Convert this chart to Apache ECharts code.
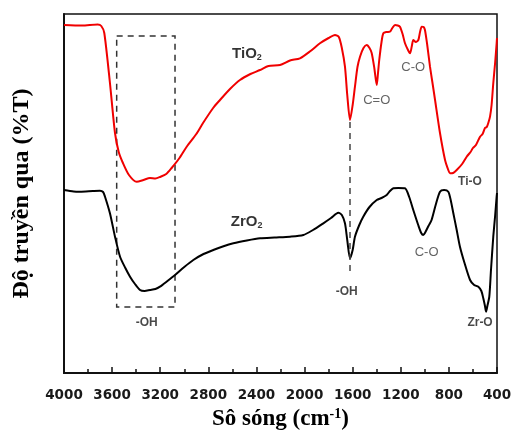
<!DOCTYPE html>
<html style="height: 100%">
<head>
    <meta charset="utf-8">
</head>
<body style="height: 100%; margin: 0; background: #fff">
<div id="container" style="width: 513px; height: 437px"></div>
<script src="https://cdn.jsdelivr.net/npm/echarts@6/dist/echarts.min.js"></script>
<script type="text/javascript">
    // wavenumber (cm-1) / transmittance (arb. units)
    const tio2Wn = [4000, 3850, 3720, 3690, 3665, 3618, 3576, 3545, 3510, 3460, 3396, 3340, 3285, 3240, 3202, 3150, 3105, 3040, 2980, 2900,
        2844, 2760, 2703, 2620, 2537, 2450, 2370, 2300, 2204, 2121, 2038, 1950, 1872, 1800, 1747, 1715, 1690, 1664, 1645, 1622,
        1600, 1581, 1560, 1539, 1510, 1483, 1460, 1442, 1420, 1400, 1390, 1379, 1360, 1345, 1320, 1290, 1270, 1248, 1225, 1207,
        1185, 1165, 1140, 1123, 1108, 1096, 1075, 1054, 1040, 1026, 1010, 999, 980, 957, 935, 915, 874, 832, 805, 791,
        765, 735, 690, 652, 620, 600, 575, 541, 520, 500, 485, 470, 458, 445, 431, 415, 403, 400];
    const tio2T = [348, 347.5, 348.5, 347, 340, 290, 240, 221, 210, 198, 191.3, 193, 195, 194.5, 196, 199, 205, 215, 226.3, 239,
        250, 265, 273, 284, 293, 299, 303, 307, 308, 312.5, 314.7, 322, 329.7, 335, 338, 336, 325, 306.3, 278, 253,
        268, 286.3, 306, 316.3, 325, 328, 325, 320, 305, 288, 299, 313, 331, 339.7, 341, 341.3, 345, 348, 347.5, 346.3,
        339, 329.7, 323, 319.7, 327, 333, 331, 333, 341, 346.3, 346, 343, 328, 306.3, 289, 273, 240, 213, 203, 199.7,
        200, 203, 209, 216.3, 221, 225, 228, 236.3, 239, 245, 246, 251, 256.3, 268, 289.7, 311, 329.7, 335];

    const zro2Wn = [4000, 3920, 3867, 3760, 3701, 3675, 3659, 3618, 3576, 3534, 3490, 3451, 3410, 3368, 3330, 3285, 3240, 3202, 3140, 3077,
        3000, 2925, 2840, 2759, 2680, 2592, 2480, 2370, 2250, 2121, 2010, 1930, 1844, 1780, 1719, 1690, 1664, 1645, 1622, 1600,
        1581, 1545, 1512, 1460, 1400, 1360, 1317, 1290, 1262, 1220, 1165, 1130, 1096, 1055, 1030, 1013, 995, 970, 944, 910,
        874, 840, 805, 785, 763, 735, 708, 670, 624, 590, 555, 530, 514, 500, 491, 480, 464, 450, 431, 415, 403, 400];
    const zro2T = [183, 181.5, 181.3, 182, 182.3, 181, 176.3, 159.7, 136.3, 116.3, 105, 96.3, 89, 83, 82, 83, 84, 86.3, 92, 98,
        106, 113, 119, 123, 126.5, 129.7, 132.5, 134.7, 135.5, 136.3, 138, 143, 149.7, 155, 160.3, 158, 149.7, 133, 114.7, 123,
        136.3, 148, 156.3, 166, 173, 175, 178, 182, 184.7, 185, 184.7, 176, 163, 148, 140, 138, 141, 147, 153, 168,
        181.3, 183, 181.3, 173, 159.7, 143, 126.3, 110, 93, 88, 86.3, 82, 74.7, 67, 61.3, 67, 76.3, 103, 136.3, 158, 176.3, 180];

    // annotations
    const ohBox = [[3562, 337], [3077, 66]];
    const ohLine = [[1622, 251], [1622, 100]];
    const labelText = ['TiO{s|2}', 'ZrO{s|2}', 'C=O', 'C-O', 'C-O', 'Ti-O', 'Zr-O', '-OH', '-OH'];
    const labelPos = [[2479, 319], [2481, 151], [1400, 273], [1096, 306], [985, 121], [625, 191], [541, 50], [3312, 50], [1650, 81]];
    const labelKind = ['big', 'big', 'thin', 'thin', 'thin', 'small', 'small', 'small', 'small'];

    const xTicks = [4000, 3600, 3200, 2800, 2400, 2000, 1600, 1200, 800, 400];

    function pairs(xs, ys) {
        return xs.map(function (x, i) { return [x, ys[i]]; });
    }

    const labelStyles = {
        big: {fontSize: 15, fontWeight: 'bold', color: '#000'},
        thin: {fontSize: 13, fontWeight: 'normal', color: '#3c3c3c'},
        small: {fontSize: 12, fontWeight: 'bold', color: '#1a1a1a'}
    };

    const labelData = labelPos.map(function (p, i) {
        const st = labelStyles[labelKind[i]];
        return {
            value: p,
            label: {
                formatter: labelText[i],
                fontSize: st.fontSize,
                fontWeight: st.fontWeight,
                color: st.color,
                rich: {s: {fontSize: 9, fontWeight: st.fontWeight, color: st.color, verticalAlign: 'bottom', padding: [8, 0, 0, 0]}}
            }
        };
    });

    var dom = document.getElementById("container");
    var myChart = echarts.init(dom);

    var option = {
        animation: false,
        textStyle: {fontFamily: 'Liberation Sans'},
        grid: {
            left: 64, right: 16, top: 14, bottom: 64,
            outerBoundsMode: 'none',
            containLabel: false,
            show: true, borderColor: '#111', borderWidth: 1.5
        },
        xAxis: {
            type: 'value',
            inverse: true,
            min: 400,
            max: 4000,
            interval: 400,
            axisLine: {lineStyle: {color: '#111', width: 2}},
            axisTick: {inside: true, length: 6, lineStyle: {color: '#111', width: 1.5}},
            minorTick: {show: true, splitNumber: 2, length: 4, lineStyle: {color: '#111', width: 1.5}},
            splitLine: {show: false},
            axisLabel: {
                margin: 15,
                fontFamily: 'DejaVu Sans',
                fontWeight: 'bold',
                fontSize: 13.5,
                color: '#1a1a1a',
                customValues: xTicks,
                formatter: function (v) { return String(v); }
            },
            name: 'Sô sóng (cm{sup|-1})',
            nameLocation: 'middle',
            nameGap: 33,
            nameTextStyle: {
                fontFamily: 'Liberation Serif',
                fontWeight: 'bold',
                fontSize: 23,
                color: '#000',
                rich: {sup: {fontFamily: 'Liberation Serif', fontWeight: 'bold', fontSize: 14, color: '#000', verticalAlign: 'top', padding: [0, 0, 10, 0]}}
            }
        },
        yAxis: {
            type: 'value',
            min: 0,
            max: 359,
            axisLine: {show: true, lineStyle: {color: '#111', width: 2}},
            axisTick: {show: false},
            axisLabel: {show: false},
            splitLine: {show: false},
            name: 'Độ truyền qua (%T)',
            nameLocation: 'middle',
            nameGap: 30,
            nameTextStyle: {fontFamily: 'Liberation Serif', fontWeight: 'bold', fontSize: 24, color: '#000'}
        },
        series: [
            {
                name: 'TiO2',
                type: 'line',
                data: pairs(tio2Wn, tio2T),
                showSymbol: false,
                smooth: 0.25,
                lineStyle: {color: '#f00000', width: 2},
                z: 3
            },
            {
                name: 'ZrO2',
                type: 'line',
                data: pairs(zro2Wn, zro2T),
                showSymbol: false,
                smooth: 0.25,
                lineStyle: {color: '#000', width: 2},
                z: 3,
                markArea: {
                    silent: true,
                    itemStyle: {color: 'rgba(0,0,0,0)', borderColor: '#333', borderWidth: 1.5, borderType: [6, 5]},
                    data: [[{coord: ohBox[0]}, {coord: ohBox[1]}]]
                },
                markLine: {
                    silent: true,
                    symbol: 'none',
                    label: {show: false},
                    lineStyle: {color: '#444', width: 1.5, type: [6, 5]},
                    data: [[{coord: ohLine[0]}, {coord: ohLine[1]}]]
                }
            },
            {
                type: 'scatter',
                data: labelData,
                symbolSize: 0,
                silent: true,
                label: {show: true, position: 'inside'},
                z: 4
            }
        ]
    };

    if (option && typeof option === 'object') {
        myChart.setOption(option);
    }
</script>
</body>
</html>
